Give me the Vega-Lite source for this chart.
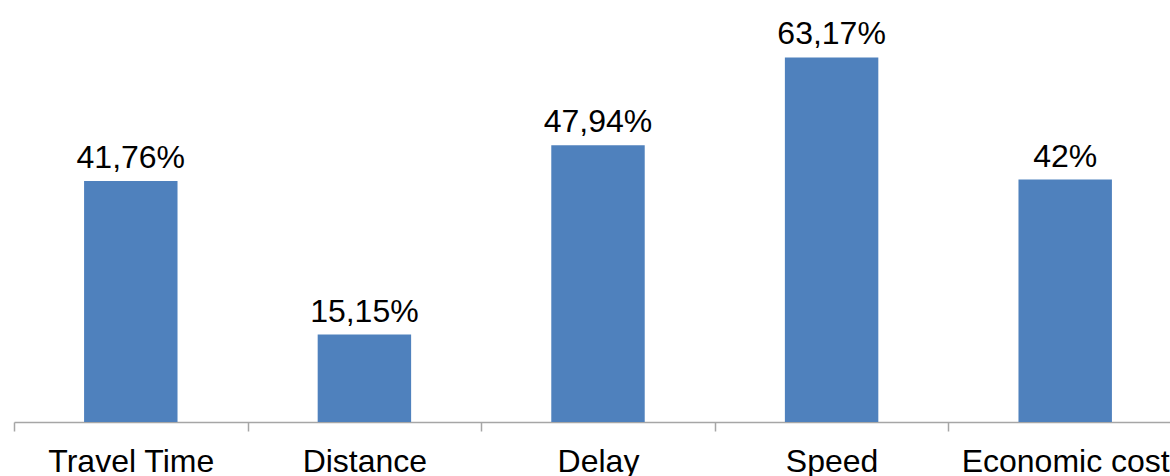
{
  "$schema": "https://vega.github.io/schema/vega-lite/v6.json",
  "autosize": {"type": "none"},
  "width": 1156,
  "height": 404,
  "padding": {"left": 14, "top": 18, "right": 0, "bottom": 54},
  "background": "white",
  "config": {"view": {"stroke": null}, "font": "Liberation Sans"},
  "data": {"values": [
    {"category": "Travel Time", "value": 41.76, "label": "41,76%"},
    {"category": "Distance", "value": 15.15, "label": "15,15%"},
    {"category": "Delay", "value": 47.94, "label": "47,94%"},
    {"category": "Speed", "value": 63.17, "label": "63,17%"},
    {"category": "Economic cost", "value": 42, "label": "42%"}
  ]},
  "encoding": {
    "x": {"field": "category", "type": "nominal", "sort": null,
      "scale": {"paddingInner": 0, "paddingOuter": 0, "range": [0, 1168]},
      "axis": {"title": null, "labelAngle": 0, "tickBand": "extent", "tickSize": 9,
        "tickColor": "#A6A6A6", "domainColor": "#A6A6A6", "domainWidth": 1.5, "tickWidth": 1.5,
        "labelFontSize": 32, "labelColor": "#000000", "labelFont": "Liberation Sans",
        "labelBaseline": "alphabetic", "labelPadding": 40.5, "labelOverlap": false, "labelLimit": 0, "labelBound": false}
    },
    "y": {"field": "value", "type": "quantitative", "scale": {"domain": [0, 70], "nice": false}, "axis": null}
  },
  "layer": [
    {"mark": {"type": "bar", "color": "#4F81BD", "width": {"band": 0.4}}},
    {"mark": {"type": "text", "fontSize": 32, "font": "Liberation Sans", "color": "#000000", "baseline": "alphabetic", "dy": -13},
     "encoding": {"text": {"field": "label"}}}
  ]
}
